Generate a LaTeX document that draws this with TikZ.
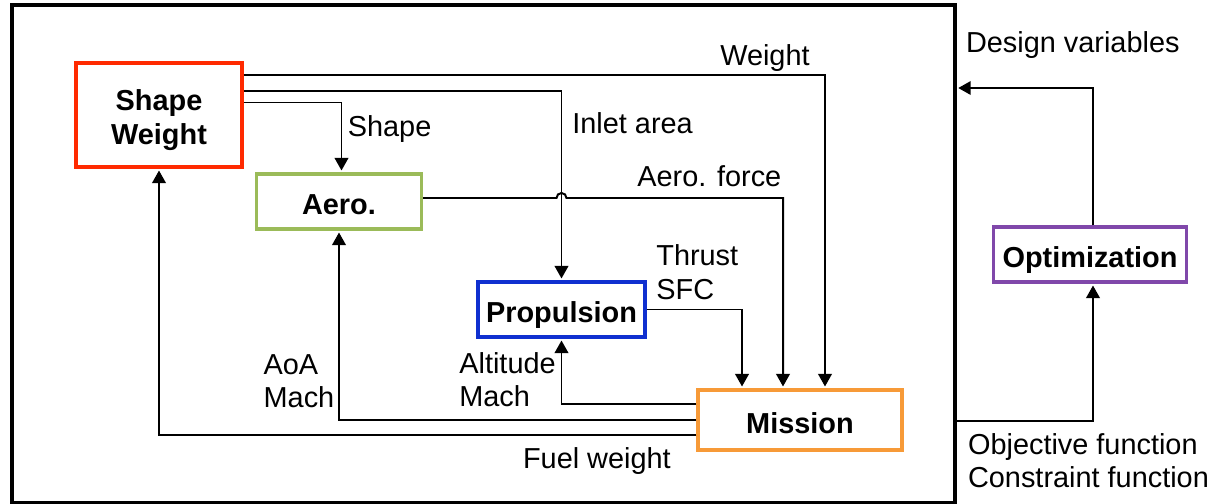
\documentclass[tikz,border=0pt]{standalone}
\usepackage{fontspec}
\setmainfont{Liberation Sans}
\usetikzlibrary{arrows.meta}
\definecolor{cred}{HTML}{FF2A00}
\definecolor{cgreen}{HTML}{9BBB59}
\definecolor{cblue}{HTML}{1030D0}
\definecolor{corange}{HTML}{F79A38}
\definecolor{cpurple}{HTML}{8048AA}
\begin{document}
\begin{tikzpicture}[x=0.02cm,y=-0.02cm,
  conn/.style={line width=1.13pt, -{Triangle[length=0.25cm,width=0.27cm]}, shorten >=1pt},
  blk/.style={draw, line width=2pt, fill=white, inner sep=0pt, align=center,
    font=\fontsize{16.44}{19.8}\selectfont\bfseries, text height=15.2pt, text depth=0pt},
  lbl/.style={inner sep=0pt, anchor=base west, font=\fontsize{16.44}{19.8}\selectfont}]
\useasboundingbox (0,0) rectangle (1215,504);
% outer system box
\node[draw, line width=1.9pt, minimum width=18.86cm, minimum height=9.96cm, inner sep=0pt] (sys) at (483.5,254) {};
% blocks
\node[blk, draw=cred, minimum width=3.32cm, minimum height=2.08cm, text height=34pt] (sw) at (159,115) {Shape\\Weight};
\node[blk, draw=cgreen, minimum width=3.3cm, minimum height=1.1cm] (aero) at (339,201.5) {Aero.};
\node[blk, draw=cblue, minimum width=3.34cm, minimum height=1.1cm] (prop) at (561.5,309.5) {Propulsion};
\node[blk, draw=corange, minimum width=4.08cm, minimum height=1.2cm] (mis) at (800,420) {Mission};
\node[blk, draw=cpurple, minimum width=3.86cm, minimum height=1.1cm] (opt) at (1090,254.5) {Optimization};
% connectors
\draw[conn] ([yshift=0.8cm]sw.east) -| ([xshift=0.5cm]mis.north);
\draw[conn] ([yshift=0.48cm]sw.east) -| (prop.north);
\draw[conn] ([yshift=0.25cm]sw.east) -| ([xshift=0.05cm]aero.north);
\draw[conn] ([yshift=0.07cm]aero.east) -- (556.5,198) arc[start angle=180, end angle=0, radius=0.1cm] -| ([xshift=-0.34cm]mis.north);
\draw[conn] (prop.east) -| ([xshift=-1.16cm]mis.north);
\draw[conn] ([yshift=0.32cm]mis.west) -| (prop.south);
\draw[conn] (mis.west) -| (aero.south);
\draw[conn] ([yshift=-0.3cm]mis.west) -| (sw.south);
\draw[conn, shorten >=0.95pt] ([xshift=0.06cm]opt.north) |- (sys.east |- 0,88);
\draw[conn] (sys.east |- 0,421) -| ([xshift=0.06cm]opt.south);
% labels
\node[lbl, anchor=base east] (lw) at (810,65) {Weight};
\node[lbl] (li) at (572,133) {Inlet area};
\node[lbl] (ls) at (347.5,136.7) {Shape};
\node[lbl] (laf) at (637,186.7) {Aero. force};
\node[lbl] (lt1) at (656,265) {Thrust};
\node[lbl] (lt2) at (656,299) {SFC};
\node[lbl] (la1) at (459,373.3) {Altitude};
\node[lbl] (la2) at (459,406.7) {Mach};
\node[lbl] (lo1) at (263.3,374) {AoA};
\node[lbl] (lo2) at (263.3,407.3) {Mach};
\node[lbl] (lf) at (522.7,468.3) {Fuel weight};
\node[lbl] (ld) at (965.7,52.3) {Design variables};
\node[lbl] (lob) at (967.7,454) {Objective function};
\node[lbl] (lc) at (967.7,487.3) {Constraint function};
\end{tikzpicture}
\end{document}
